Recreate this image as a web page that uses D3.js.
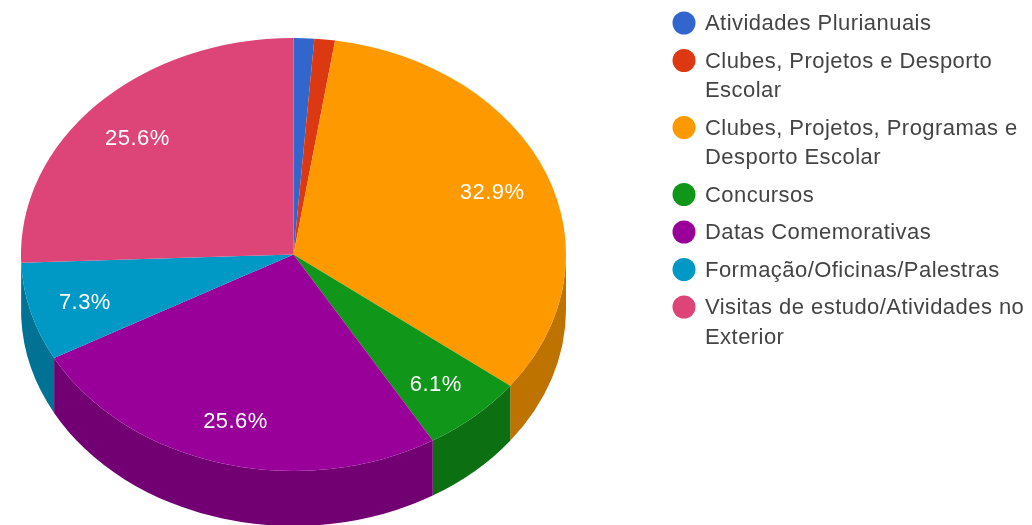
<!DOCTYPE html>
<html>
<head>
<meta charset="utf-8">
<script src="https://cdnjs.cloudflare.com/ajax/libs/d3/7.8.5/d3.min.js"></script>
<style>
  html, body { margin: 0; padding: 0; background: #fff; }
  svg { display: block; font-family: "Liberation Sans", Arial, sans-serif; letter-spacing: 0.45px; filter: blur(0.45px); }
</style>
</head>
<body>
<svg id="chart" width="1032" height="525"></svg>
<script>
// counts behind the percentages (82 answers in total)
var categories = ['Atividades Plurianuais', 'Clubes, Projetos e Desporto Escolar',
  'Clubes, Projetos, Programas e Desporto Escolar', 'Concursos', 'Datas Comemorativas',
  'Formação/Oficinas/Palestras', 'Visitas de estudo/Atividades no Exterior'];
var values = [1, 1, 27, 5, 21, 6, 21];
var sliceColors = ['#3366cc', '#dc3912', '#ff9900', '#109618', '#990099', '#0099c6', '#dd4477'];
var legendLines = [['Atividades Plurianuais'], ['Clubes, Projetos e Desporto', 'Escolar'],
  ['Clubes, Projetos, Programas e', 'Desporto Escolar'], ['Concursos'], ['Datas Comemorativas'],
  ['Formação/Oficinas/Palestras'], ['Visitas de estudo/Atividades no', 'Exterior']];

var chart_vars = {
  'cx': 293.5,
  'cy': 254.5,
  'rx': 272.5,
  'ry': 216.5,
  'depth': 55,
  'label_radius': 0.79,
  'legend_x': 684,
  'legend_text_x': 705,
  'legend_top': 23,
  'line_height': 29.5,
  'legend_gap': 37.5
};

var svg = d3.select('svg#chart');
var color = d3.scaleOrdinal().domain(categories).range(sliceColors);
var total = d3.sum(values);
var squash = chart_vars.ry / chart_vars.rx;

var pie = d3.pie().sort(null).value(function(d) { return d.value });
var slices = pie(categories.map(function(c, i) { return {name: c, value: values[i]} }));

function edgePoint(a, dy) {
  return [chart_vars.cx + chart_vars.rx * Math.sin(a), chart_vars.cy - chart_vars.ry * Math.cos(a) + dy];
}

// side wall, only the part of a slice on the front half of the ellipse
function wallPath(d) {
  var a0 = Math.max(d.startAngle, Math.PI / 2);
  var a1 = Math.min(d.endAngle, Math.PI * 1.5);
  if (a1 <= a0) { return null }
  var r = chart_vars.rx + ' ' + chart_vars.ry;
  var p0 = edgePoint(a0, 0), p1 = edgePoint(a1, 0);
  var q0 = edgePoint(a0, chart_vars.depth), q1 = edgePoint(a1, chart_vars.depth);
  return 'M' + p0 + 'A' + r + ' 0 0 1 ' + p1 + 'L' + q1 + 'A' + r + ' 0 0 0 ' + q0 + 'Z';
}

var g_walls = svg.append('g').attr('class', 'walls');
g_walls.selectAll('path')
  .data(slices.filter(function(d) { return wallPath(d) }))
  .enter()
  .append('path')
  .attr('d', wallPath)
  .style('fill', function(d) { return d3.rgb(color(d.data.name)).darker(0.83) });

var arc = d3.arc().innerRadius(0).outerRadius(chart_vars.rx);
var g_top = svg.append('g')
  .attr('transform', 'translate(' + chart_vars.cx + ',' + chart_vars.cy + ') scale(1,' + squash + ')');
g_top.selectAll('path')
  .data(slices)
  .enter()
  .append('path')
  .attr('d', arc)
  .style('fill', function(d) { return color(d.data.name) });

var labelArc = d3.arc()
  .innerRadius(chart_vars.rx * chart_vars.label_radius)
  .outerRadius(chart_vars.rx * chart_vars.label_radius);

svg.append('g').attr('class', 'labels')
  .selectAll('text')
  .data(slices.filter(function(d) { return d.value / total > 0.02 }))
  .enter()
  .append('text')
  .attr('x', function(d) { return chart_vars.cx - 1 + labelArc.centroid(d)[0] })
  .attr('y', function(d) { return chart_vars.cy + 1 + labelArc.centroid(d)[1] * squash })
  .attr('dy', '0.36em')
  .attr('text-anchor', 'middle')
  .style('fill', '#fff')
  .style('font-size', '22px')
  .text(function(d) { return (d.value / total * 100).toFixed(1) + '%' });

// legend
var y = chart_vars.legend_top;
categories.forEach(function(c, i) {
  var item = svg.append('g').attr('class', 'legend-item');
  item.append('circle')
    .attr('cx', chart_vars.legend_x)
    .attr('cy', y)
    .attr('r', 11.5)
    .style('fill', color(c));
  legendLines[i].forEach(function(line, j) {
    item.append('text')
      .attr('x', chart_vars.legend_text_x)
      .attr('y', y + j * chart_vars.line_height)
      .attr('dy', '0.32em')
      .style('fill', '#444')
      .style('font-size', '22px')
      .text(line);
  });
  y += chart_vars.legend_gap + (legendLines[i].length - 1) * chart_vars.line_height;
});
</script>
</body>
</html>
